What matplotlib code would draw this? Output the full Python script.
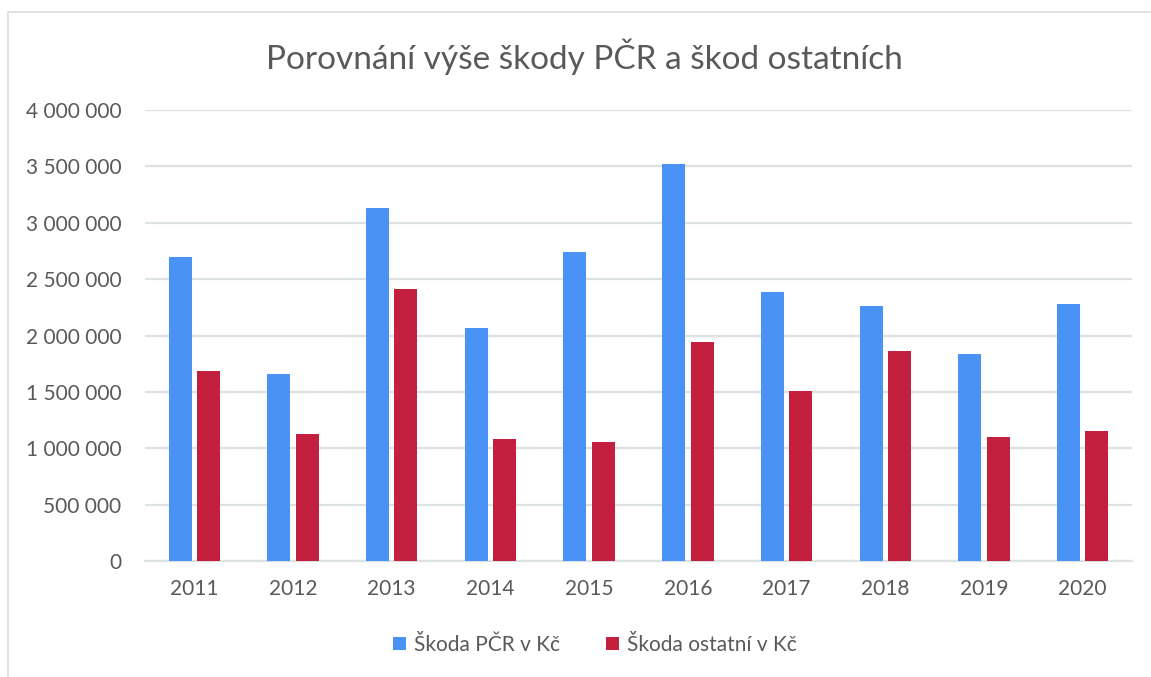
import matplotlib
matplotlib.use("Agg")
import matplotlib.pyplot as plt
import numpy as np
from matplotlib.patches import Rectangle

years = ["2011", "2012", "2013", "2014", "2015", "2016", "2017", "2018", "2019", "2020"]
skoda_pcr = [2694000, 1655000, 3135000, 2067000, 2738000, 3523000, 2386000, 2265000, 1836000, 2276000]
skoda_ostatni = [1687000, 1125000, 2416000, 1083000, 1051000, 1945000, 1504000, 1862000, 1101000, 1152000]
series_names = ["Škoda PČR v Kč", "Škoda ostatní v Kč"]
title = "Porovnání výše škody PČR a škod ostatních"

blue = "#4A92F6"
red = "#C2203E"
txt = "#595959"
grid = "#DCE1E1"

plt.rcParams['font.family'] = ['Lato', 'DejaVu Sans']

fig = plt.figure(figsize=(11.51, 6.77), dpi=100)
fig.patches.append(Rectangle((8/1151, -0.01), 1.05, 1 - 12/677 + 0.01, transform=fig.transFigure,
                             fill=False, edgecolor="#D9DEDE", linewidth=1.2))
ax = fig.add_axes([145/1151, 1 - 561/677, (1132 - 145)/1151, (561 - 110)/677])

x = np.arange(len(years))
w = 0.233
gap = 0.055
ax.bar(x - (w + gap)/2, skoda_pcr, width=w, color=blue, label=series_names[0], zorder=3)
ax.bar(x + (w + gap)/2, skoda_ostatni, width=w, color=red, label=series_names[1], zorder=3)

ax.set_xlim(-0.5, len(years) - 0.5)
ax.set_ylim(0, 4000000)
yt = np.arange(0, 4000001, 500000)
ax.set_yticks(yt)
ax.set_yticklabels([f"{v:,}".replace(",", " ") for v in yt], fontsize=15, color=txt)
ax.set_xticks(x)
ax.set_xticklabels(years, fontsize=15, color=txt)
ax.tick_params(axis='both', length=0)
ax.tick_params(axis='y', pad=17)
ax.tick_params(axis='x', pad=13)
ax.grid(axis='y', color=grid, linewidth=1.6, zorder=0)
for s in ["top", "right", "left"]:
    ax.spines[s].set_visible(False)
ax.spines["bottom"].set_color(grid)
ax.spines["bottom"].set_linewidth(1.6)

fig.text(584/1151, 1 - 57/677, title, ha='center', va='center', fontsize=24, color=txt)

leg = fig.legend(loc='center', bbox_to_anchor=(595/1151, 1 - 645/677), ncol=2, frameon=False,
                 fontsize=15, handlelength=0.6, handleheight=0.6, handletextpad=0.4, columnspacing=2.2)
for t in leg.get_texts():
    t.set_color(txt)

fig.savefig("out.png", dpi=100)
